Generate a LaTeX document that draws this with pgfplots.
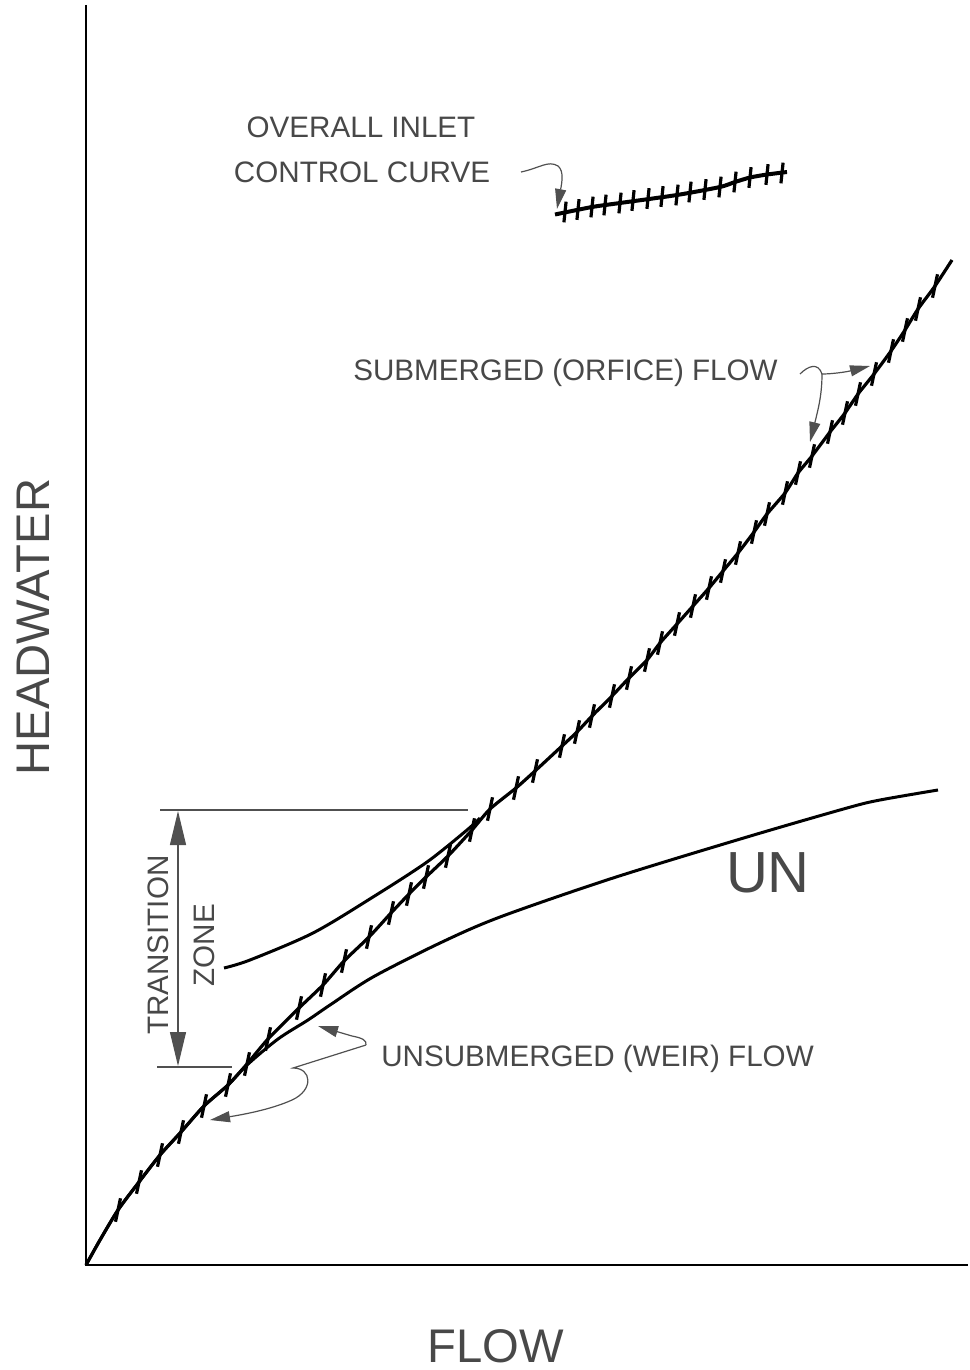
\documentclass[border=0pt]{standalone}
\usepackage{pgfplots}
\pgfplotsset{compat=1.18}
\usepackage{fontspec}
\setmainfont{Liberation Sans}
\usetikzlibrary{arrows.meta}
\definecolor{txt}{RGB}{72,72,72}
\definecolor{ann}{RGB}{80,80,80}

\begin{document}
\begin{tikzpicture}
\begin{axis}[
  scale only axis, width=484pt, height=685pt,
  xmin=0, xmax=968, ymin=0, ymax=1370, y dir=reverse,
  hide axis, clip=false,
]
\path (axis cs:0,0) rectangle (axis cs:968,1370);
% axis lines
\addplot[black, line width=1.1pt, no marks] coordinates {(86,5) (86,1265) (968,1265)};

% unsubmerged (weir) curve
\addplot[black, line width=1.5pt, no marks, smooth, tension=0.5] coordinates {
(86,1265) (100,1240) (118,1210) (139,1182) (160,1155) (181,1132) (204,1106) (228,1085) (247,1065)
(278,1039) (308,1020) (330,1005) (373,977) (440,943) (500,917) (613,878) (747,837) (847,808) (880,800) (938,790)};

% transition upper curve
\addplot[black, line width=1.5pt, no marks, smooth, tension=0.5] coordinates {
(224,968) (250,960) (313,933) (373,897) (427,862) (467,830) (480,818)};

% submerged / inlet control curve with ticks
\addplot[black, line width=1.6pt, no marks, smooth, tension=0.4] coordinates {
(86,1265) (100,1240) (118,1210) (139,1182) (160,1155) (181,1132) (204,1106) (228,1085) (247,1064)
(268,1039) (299,1008) (323,985) (344,961) (369,937) (391,913) (409,894) (426,877) (448,856)
(472,830) (490,809) (516,788) (535,771) (562,746) (577,732) (592,716) (612,696) (629,678)
(647,660) (660,643) (677,624) (693,606) (709,588) (723,571) (738,553) (754,532) (767,514)
(785,493) (798,473) (812,456) (830,432) (845,413) (858,394) (874,374) (891,351) (905,330)
(918,309) (935,286) (952,260)};
\addplot[black, line width=1.6pt, only marks, mark=|, mark size=6pt, mark options={rotate=-12}] coordinates {
(118,1210) (139,1182) (160,1155) (181,1132) (204,1106) (228,1085) (247,1064)
(268,1039) (299,1008) (323,985) (344,961) (369,937) (391,913) (409,894) (426,877) (448,856)
(472,830) (490,809) (516,788) (535,771) (562,746) (577,732) (592,716) (612,696) (629,678)
(647,660) (660,643) (677,624) (693,606) (709,588) (723,571) (738,553) (754,532) (767,514)
(785,493) (798,473) (812,456) (830,432) (845,413) (858,394) (874,374) (891,351) (905,330)
(918,309) (935,286)};

% overall inlet control curve
\addplot[black, line width=2pt, no marks, smooth, tension=0.4] coordinates {
(555,214.5) (592,207) (620,203) (677,195) (720,187) (735,182) (750,177.5) (767,174.5) (787,172)};
\addplot[black, line width=1.6pt, only marks, mark=|, mark size=5.2pt, mark options={rotate=-6}] coordinates {
(565,212) (578,209.5) (592,207) (605,205) (620,203) (633,200.5) (648,198.5) (662,196.5)
(677,195) (690,192) (705,189.5) (720,187) (735,182) (750,177.5) (767,174.5) (782,173)};

% texts
\node[anchor=base, text=txt, font=\fontsize{14.8}{17}\selectfont] at (axis cs:361,138) {OVERALL INLET};
\node[anchor=base, text=txt, font=\fontsize{14.8}{17}\selectfont] at (axis cs:362,182) {CONTROL CURVE};
\node[anchor=base, text=txt, font=\fontsize{14.8}{17}\selectfont] at (axis cs:565.5,380) {SUBMERGED (ORFICE) FLOW};
\node[anchor=base, text=txt, font=\fontsize{14.8}{17}\selectfont] at (axis cs:597.5,1066) {UNSUBMERGED (WEIR) FLOW};
\node[anchor=base, text=txt, font=\fontsize{29}{33}\selectfont] at (axis cs:768,892) {UN};
\node[anchor=base, text=txt, font=\fontsize{23.6}{27}\selectfont] at (axis cs:495.5,1362) {FLOW};
\node[rotate=90, text=txt, font=\fontsize{23.6}{27}\selectfont] at (axis cs:33,627) {HEADWATER};
\node[rotate=90, text=txt, font=\fontsize{14.8}{17}\selectfont] at (axis cs:158,945) {TRANSITION};
\node[rotate=90, text=txt, font=\fontsize{14.8}{17}\selectfont] at (axis cs:204,945) {ZONE};

% transition zone dimension
\draw[ann, line width=0.6pt] (axis cs:160,810) -- (axis cs:468,810);
\draw[ann, line width=0.6pt] (axis cs:157,1067) -- (axis cs:232,1067);
\draw[ann, line width=0.6pt, {Triangle[length=17pt,width=8pt]}-{Triangle[length=17pt,width=8pt]}] (axis cs:178,811) -- (axis cs:178,1066);

% annotation arrows
\draw[ann, line width=0.6pt, -{Triangle[length=10pt,width=5.5pt]}]
  (axis cs:521,172) .. controls (axis cs:540,168) and (axis cs:548,160) .. (axis cs:558,166)
  .. controls (axis cs:564,171) and (axis cs:562,182) .. (axis cs:557,209);
\draw[ann, line width=0.6pt, -{Triangle[length=10pt,width=5.5pt]}]
  (axis cs:800,374) .. controls (axis cs:808,366) and (axis cs:818,362) .. (axis cs:822,374)
  .. controls (axis cs:832,374) and (axis cs:846,372) .. (axis cs:870,366);
\draw[ann, line width=0.6pt, -{Triangle[length=10pt,width=5.5pt]}]
  (axis cs:822,374) .. controls (axis cs:822,395) and (axis cs:818,410) .. (axis cs:810,442);
\draw[ann, line width=0.6pt, -{Triangle[length=10pt,width=5.5pt]}]
  (axis cs:366,1045) .. controls (axis cs:367,1040) and (axis cs:362,1038) .. (axis cs:352,1036) -- (axis cs:318,1026);
\draw[ann, line width=0.6pt, -{Triangle[length=10pt,width=5.5pt]}]
  (axis cs:366,1045) -- (axis cs:293,1068) .. controls (axis cs:312,1068) and (axis cs:314,1090) .. (axis cs:292,1100)
  .. controls (axis cs:270,1110) and (axis cs:240,1115) .. (axis cs:210,1120);
\end{axis}
\end{tikzpicture}
\end{document}
